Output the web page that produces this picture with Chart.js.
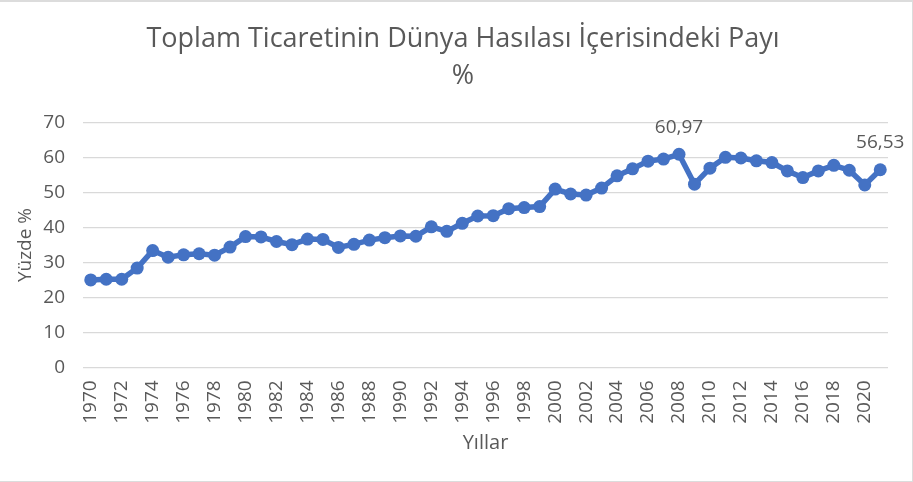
<!DOCTYPE html>
<html lang="tr">
<head>
<meta charset="utf-8">
<title>Toplam Ticaretinin Dünya Hasılası İçerisindeki Payı</title>
<script src="https://cdn.jsdelivr.net/npm/chart.js@4.4.1/dist/chart.umd.min.js"></script>
<style>
  html, body { margin: 0; padding: 0; background: #ffffff; }
  #wrap {
    position: relative;
    width: 913px;
    height: 482px;
    box-sizing: border-box;
    border-top: 2px solid #dcdcdc;
    border-right: 1px solid #dcdcdc;
    border-bottom: 1px solid #dcdcdc;
  }
  #tradeChart { position: absolute; left: 0; top: -2px; }
</style>
</head>
<body>
<div id="wrap">
  <canvas id="tradeChart" width="913" height="482"></canvas>
</div>
<script>
// Dünya ticaretinin GSYH içindeki payı (%), 1970-2021

const years = [
  1970, 1971, 1972, 1973, 1974, 1975, 1976, 1977, 1978, 1979,
  1980, 1981, 1982, 1983, 1984, 1985, 1986, 1987, 1988, 1989,
  1990, 1991, 1992, 1993, 1994, 1995, 1996, 1997, 1998, 1999,
  2000, 2001, 2002, 2003, 2004, 2005, 2006, 2007, 2008, 2009,
  2010, 2011, 2012, 2013, 2014, 2015, 2016, 2017, 2018, 2019,
  2020, 2021,
];

const tradeShare = [
  25.0, 25.2, 25.2, 28.4, 33.4, 31.5, 32.2, 32.5, 32.1, 34.4,
  37.4, 37.3, 36.0, 35.1, 36.7, 36.6, 34.3, 35.2, 36.4, 37.1,
  37.6, 37.5, 40.2, 38.9, 41.2, 43.3, 43.4, 45.4, 45.7, 46.0,
  51.0, 49.6, 49.3, 51.3, 54.8, 56.8, 59.0, 59.6, 60.97, 52.4,
  57.0, 60.1, 59.9, 59.1, 58.6, 56.2, 54.3, 56.2, 57.8, 56.4,
  52.2, 56.53,
];

// only these points carry a value label
const labelledYears = [2008, 2021];

const yTicks = [0, 10, 20, 30, 40, 50, 60, 70];

const titleLines = ["Toplam Ticaretinin Dünya Hasılası İçerisindeki Payı", "%"];

const textColor = "#595959";
const lineColor = "#4472C4";
const gridColor = "#d9d9d9";
const fontFamily = "'Open Sans', 'DejaVu Sans', sans-serif";

// Turkish decimal comma for the data labels
function formatTr(v) {
  return v.toFixed(2).replace(".", ",");
}

// Draws the value labels above the selected points
const pointLabels = {
  id: "pointLabels",
  afterDatasetsDraw(chart) {
    const ctx = chart.ctx;
    const meta = chart.getDatasetMeta(0);
    ctx.save();
    ctx.font = "19px " + fontFamily;
    ctx.fillStyle = textColor;
    ctx.textAlign = "center";
    ctx.textBaseline = "middle";
    labelledYears.forEach((yr) => {
      const i = years.indexOf(yr);
      const pt = meta.data[i];
      if (!pt) return;
      ctx.fillText(formatTr(tradeShare[i]), pt.x, pt.y - 27);
    });
    ctx.restore();
  },
};

// Title drawn by hand: in the original it sits a bit right of the canvas centre
const chartTitle = {
  id: "chartTitle",
  afterDraw(chart) {
    const ctx = chart.ctx;
    ctx.save();
    ctx.font = "27px " + fontFamily;
    ctx.fillStyle = textColor;
    ctx.textAlign = "center";
    ctx.textBaseline = "middle";
    titleLines.forEach((line, i) => {
      ctx.fillText(line, 463, 39.5 + i * 37);
    });
    ctx.restore();
  },
};

const ctx = document.getElementById("tradeChart");

new Chart(ctx, {
  type: "line",
  data: {
    labels: years.map(String),
    datasets: [
      {
        label: "Toplam Ticaret / Dünya Hasılası",
        data: tradeShare,
        borderColor: lineColor,
        backgroundColor: lineColor,
        borderWidth: 5.5,
        pointRadius: 6.5,
        pointBorderWidth: 0,
        pointBackgroundColor: lineColor,
        tension: 0,
      },
    ],
  },
  options: {
    responsive: false,
    animation: false,
    devicePixelRatio: 1,
    layout: {
      padding: { top: 122.7, left: 0, right: 25, bottom: 0 },
    },
    plugins: {
      legend: { display: false },
      tooltip: { enabled: false },
      title: { display: false },
    },
    scales: {
      x: {
        type: "category",
        offset: true,
        grid: { display: false, drawTicks: false },
        border: { display: false },
        ticks: {
          autoSkip: false,
          minRotation: 90,
          maxRotation: 90,
          padding: 13,
          color: textColor,
          font: { family: fontFamily, size: 19 },
          callback: function (value, index) {
            return years[index] % 2 === 0 ? String(years[index]) : "";
          },
        },
        title: {
          display: true,
          text: "Yıllar",
          color: textColor,
          font: { family: fontFamily, size: 20 },
          padding: { top: 0, bottom: 27 },
        },
        afterFit: function (scale) {
          scale.height = 114.7;
          scale.paddingLeft = 0;
          scale.paddingRight = 0;
        },
      },
      y: {
        min: 0,
        max: 70,
        afterBuildTicks: function (scale) {
          scale.ticks = yTicks.map((v) => ({ value: v }));
        },
        grid: { color: gridColor, lineWidth: 1.3, drawTicks: false },
        border: { display: false },
        ticks: {
          padding: 18,
          color: textColor,
          font: { family: fontFamily, size: 19 },
        },
        title: {
          display: true,
          text: "Yüzde %",
          color: textColor,
          font: { family: fontFamily, size: 19 },
          padding: { top: 14, bottom: 0 },
        },
        afterFit: function (scale) {
          scale.width = 83;
        },
      },
    },
  },
  plugins: [pointLabels, chartTitle],
});
</script>
</body>
</html>
